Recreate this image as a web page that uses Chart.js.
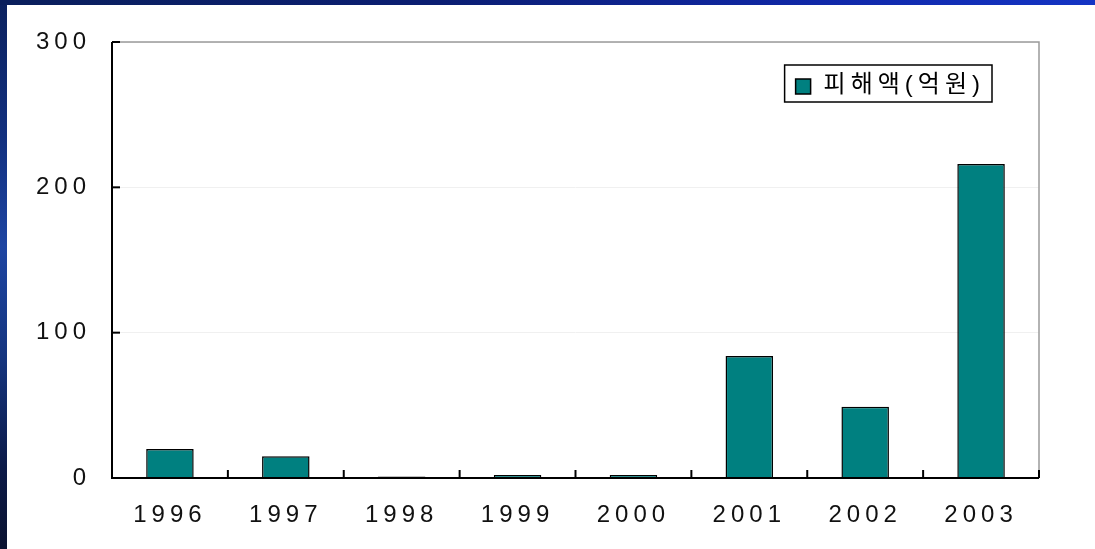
<!DOCTYPE html>
<html>
<head>
<meta charset="utf-8">
<script src="https://cdn.jsdelivr.net/npm/chart.js@4.4.1/dist/chart.umd.min.js"></script>
<style>
  html, body { margin: 0; padding: 0; }
  body {
    width: 1095px; height: 549px; overflow: hidden; position: relative;
    background: linear-gradient(to bottom, #0b215e 0%, #12307f 25%, #1e45a2 45%, #15357f 65%, #0c1a48 85%, #0a1230 100%);
  }
  #topbar {
    position: absolute; left: 0; top: 0; width: 1095px; height: 5px;
    background: linear-gradient(to right, #0a1f5c 0%, #0b1e72 40%, #1028a8 75%, #1434c4 100%);
  }
  #panel {
    position: absolute; left: 7px; top: 5px; width: 1088px; height: 544px; background: #ffffff;
  }
  canvas { display: block; }
</style>
</head>
<body>
<div id="topbar"></div>
<div id="panel"><canvas id="c" width="1088" height="544"></canvas></div>
<script>
const categories = ['1996', '1997', '1998', '1999', '2000', '2001', '2002', '2003'];
const damageValues = [20, 15, 1, 2, 2, 84, 49, 216];
const seriesLabel = '피해액(억원)';
const yTickValues = [0, 100, 200, 300];

const FONT_FAMILY = "'Liberation Sans', 'Noto Sans CJK KR', sans-serif";
const SPACING = '5px';

const spacingPlugin = {
  id: 'spacing',
  beforeLayout(chart) { chart.ctx.letterSpacing = SPACING; },
  beforeDraw(chart) { chart.ctx.letterSpacing = SPACING; },
  beforeDatasetsDraw(chart) { chart.ctx.letterSpacing = SPACING; }
};

const framePlugin = {
  id: 'frame',
  afterDraw(chart) {
    const ctx = chart.ctx;
    const a = chart.chartArea;
    const x = chart.scales.x, y = chart.scales.y;
    ctx.save();
    ctx.strokeStyle = '#9a9a9a';
    ctx.lineWidth = 1.5;
    ctx.beginPath();
    ctx.moveTo(a.left, a.top); ctx.lineTo(a.right, a.top); ctx.lineTo(a.right, a.bottom);
    ctx.stroke();
    ctx.strokeStyle = '#000';
    ctx.lineWidth = 2;
    ctx.beginPath();
    ctx.moveTo(a.left, a.top); ctx.lineTo(a.left, a.bottom); ctx.lineTo(a.right, a.bottom);
    ctx.stroke();
    yTickValues.forEach(v => {
      const py = y.getPixelForValue(v);
      ctx.beginPath(); ctx.moveTo(a.left, py); ctx.lineTo(a.left + 8, py); ctx.stroke();
    });
    for (let i = 1; i <= categories.length; i++) {
      let px;
      if (i < categories.length) px = (x.getPixelForValue(i - 1) + x.getPixelForValue(i)) / 2;
      else px = a.right;
      ctx.beginPath(); ctx.moveTo(px, a.bottom); ctx.lineTo(px, a.bottom - 8); ctx.stroke();
    }
    // legend box
    const ds = chart.data.datasets[0];
    ctx.font = '24px ' + FONT_FAMILY;
    ctx.letterSpacing = '5px';
    const tw = ctx.measureText(ds.label).width;
    const bw = 39 + tw + 7;
    const bh = 37;
    const bx = a.right - 47 - bw;
    const by = a.top + 23;
    ctx.strokeStyle = '#000';
    ctx.lineWidth = 1.5;
    ctx.strokeRect(bx, by, bw, bh);
    ctx.fillStyle = ds.backgroundColor;
    ctx.fillRect(bx + 11, by + 14, 15, 15);
    ctx.strokeRect(bx + 11, by + 14, 15, 15);
    ctx.fillStyle = '#000';
    ctx.textBaseline = 'middle';
    ctx.textAlign = 'left';
    ctx.fillText(ds.label, bx + 39, by + bh / 2 + 2);
    ctx.restore();
  }
};

new Chart(document.getElementById('c'), {
  type: 'bar',
  data: {
    labels: categories,
    datasets: [{
      label: seriesLabel,
      data: damageValues,
      backgroundColor: '#008080',
      borderColor: '#000000',
      borderWidth: 1.5,
      categoryPercentage: 1.0,
      barPercentage: 0.41
    }]
  },
  options: {
    responsive: false,
    animation: false,
    layout: { padding: { top: 37, right: 56, left: 0, bottom: 0 } },
    plugins: { legend: { display: false }, tooltip: { enabled: false } },
    scales: {
      x: {
        grid: { display: false, drawTicks: false },
        border: { display: false },
        ticks: { color: '#111', font: { size: 24, family: FONT_FAMILY }, padding: 23, maxRotation: 0 },
        afterFit(s) { s.height = 71; }
      },
      y: {
        min: 0, max: 300,
        afterBuildTicks(s) { s.ticks = yTickValues.map(v => ({ value: v })); },
        grid: { color: '#f0f0f0', lineWidth: 1, drawTicks: false },
        border: { display: false },
        ticks: { color: '#111', font: { size: 24, family: FONT_FAMILY }, padding: 21 },
        afterFit(s) { s.width = 105; }
      }
    }
  },
  plugins: [spacingPlugin, framePlugin]
});
</script>
</body>
</html>
